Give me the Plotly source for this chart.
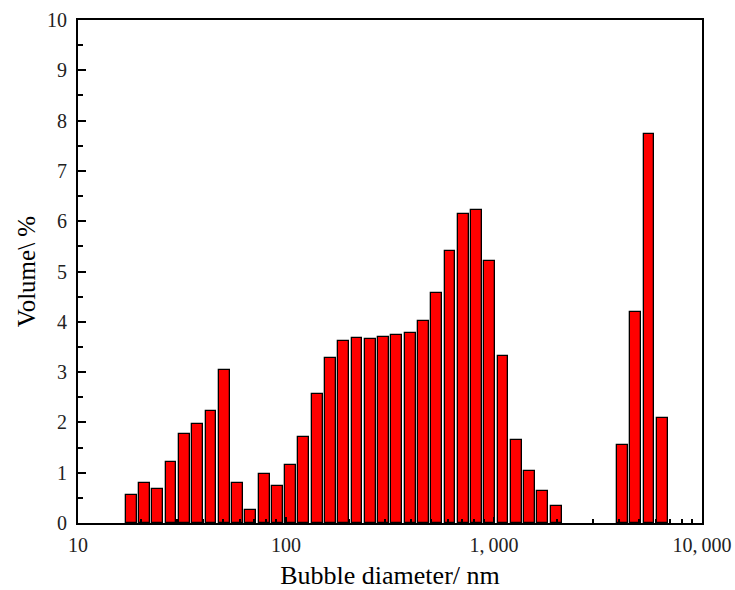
import numpy as np
import plotly.graph_objects as go

# Bubble diameters (nm) at bar centres
diameter_nm = [18.0, 20.9, 24.2, 28.0, 32.5, 37.6, 43.6, 50.5, 58.5, 67.7,
               78.5, 90.9, 105.3, 121.9, 141.2, 163.6, 189.5, 219.5, 254.2, 294.5,
               341.1, 395.1, 457.6, 530.1, 614.0, 711.2, 823.8, 954.3, 1105, 1280,
               1483, 1718, 1990, 4147, 4804, 5565, 6446]
# Volume (%)
volume_pct = [0.56, 0.79, 0.67, 1.21, 1.77, 1.96, 2.22, 3.04, 0.80, 0.26,
              0.98, 0.73, 1.15, 1.71, 2.57, 3.28, 3.62, 3.67, 3.66, 3.70,
              3.73, 3.78, 4.01, 4.58, 5.41, 6.14, 6.22, 5.21, 3.32, 1.65,
              1.03, 0.64, 0.33, 1.56, 4.20, 7.73, 2.09]

x_tick_values = [10, 100, 1000, 10000]
x_tick_labels = ["10", "100", "1,\u2009000", "10,\u2009000"]
y_tick_values = list(range(0, 11))

FONT = "Liberation Serif, Times New Roman, serif"

logd = np.log10(diameter_nm)
minor_vals = [np.log10(m * 10 ** e) for e in range(1, 4) for m in range(2, 10)]

fig = go.Figure()
fig.add_trace(go.Bar(
    x=logd, y=volume_pct, width=0.052,
    marker=dict(color="#ff0000", line=dict(color="black", width=1.3)),
    showlegend=False,
))

fig.update_layout(
    width=735, height=590,
    margin=dict(l=78, r=33, t=20, b=67),
    paper_bgcolor="white", plot_bgcolor="white",
    font=dict(family=FONT, size=20, color="black"),
    bargap=0,
)
fig.update_xaxes(
    range=[1, 4], tickmode="array", automargin=False,
    tickvals=np.log10(x_tick_values), ticktext=x_tick_labels,
    ticks="inside", ticklen=6, tickwidth=1.5, tickcolor="black",
    ticklabelstandoff=3,
    minor=dict(tickmode="array", tickvals=minor_vals, ticks="inside",
               ticklen=4, tickwidth=1.5, tickcolor="black", showgrid=False),
    showline=True, linecolor="black", linewidth=2, mirror=True,
    showgrid=False, zeroline=False,
    tickfont=dict(family=FONT, size=20, color="#222"),
    title=dict(text="Bubble diameter/ nm", font=dict(family=FONT, size=26, color="black"), standoff=12),
)
fig.update_yaxes(
    range=[0, 10], tickmode="array", tickvals=y_tick_values, automargin=False,
    ticks="inside", ticklen=8, tickwidth=1.5, tickcolor="black",
    ticklabelstandoff=5,
    minor=dict(dtick=0.5, tick0=0, ticks="inside", ticklen=5, tickwidth=1.5,
               tickcolor="black", showgrid=False),
    showline=True, linecolor="black", linewidth=2, mirror=True,
    showgrid=False, zeroline=False,
    tickfont=dict(family=FONT, size=20, color="#222"),
    title=dict(text="Volume\\ %", font=dict(family=FONT, size=25, color="black"), standoff=4),
)

fig.write_html("out.html")
